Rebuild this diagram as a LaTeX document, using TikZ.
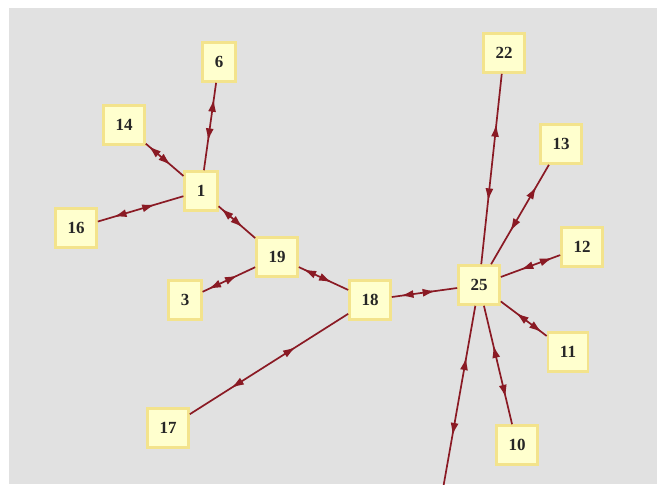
\documentclass[tikz,border=0pt]{standalone}
\usepackage{fontspec}
\setmainfont{Liberation Serif}
\usetikzlibrary{arrows.meta,decorations.markings}

\definecolor{panelgray}{RGB}{225,225,225}
\definecolor{boxfill}{RGB}{255,255,206}
\definecolor{boxline}{RGB}{243,227,140}
\definecolor{edgered}{RGB}{138,26,36}

\tikzset{
  vertex/.style={draw=boxline, line width=1.3pt, fill=boxfill, inner xsep=6pt,
    minimum height=19.5pt, font=\fontsize{8.5}{8.5}\selectfont\bfseries, text=black!85},
  link/.style={draw=edgered, line width=0.85pt, postaction={decorate},
    decoration={markings,
      mark=at position 0.33 with {\arrow{Latex[length=6.5pt,width=4pt,reversed]}},
      mark=at position 0.67 with {\arrow{Latex[length=6.5pt,width=4pt]}}}}
}

\begin{document}
\begin{tikzpicture}[x=0.5pt,y=-0.5pt]
    \useasboundingbox (0,0) rectangle (657,484);
    \fill[white] (0,0) rectangle (657,484);
    \fill[panelgray] (9,8) rectangle (657,484);
    \clip (9,8) rectangle (657,484);

    \node[vertex] (n6)  at (219,62)  {6};
    \node[vertex] (n14) at (124,125) {14};
    \node[vertex] (n1)  at (201,191) {1};
    \node[vertex] (n16) at (76,228)  {16};
    \node[vertex] (n19) at (277,257) {19};
    \node[vertex] (n3)  at (185,300) {3};
    \node[vertex] (n18) at (370,300) {18};
    \node[vertex] (n17) at (168,428) {17};
    \node[vertex] (n25) at (479,285) {25};
    \node[vertex] (n22) at (504,53)  {22};
    \node[vertex] (n13) at (561,144) {13};
    \node[vertex] (n12) at (582,247) {12};
    \node[vertex] (n11) at (568,352) {11};
    \node[vertex] (n10) at (517,445) {10};
    \coordinate (below) at (441,500);

    \foreach \a/\b in {n6/n1, n14/n1, n16/n1, n1/n19, n3/n19, n19/n18, n17/n18,
                       n18/n25, n22/n25, n13/n25, n12/n25, n11/n25, n10/n25}
        \draw[link] (\a) -- (\b);
    \draw[link] (n25) -- (below);
\end{tikzpicture}
\end{document}
